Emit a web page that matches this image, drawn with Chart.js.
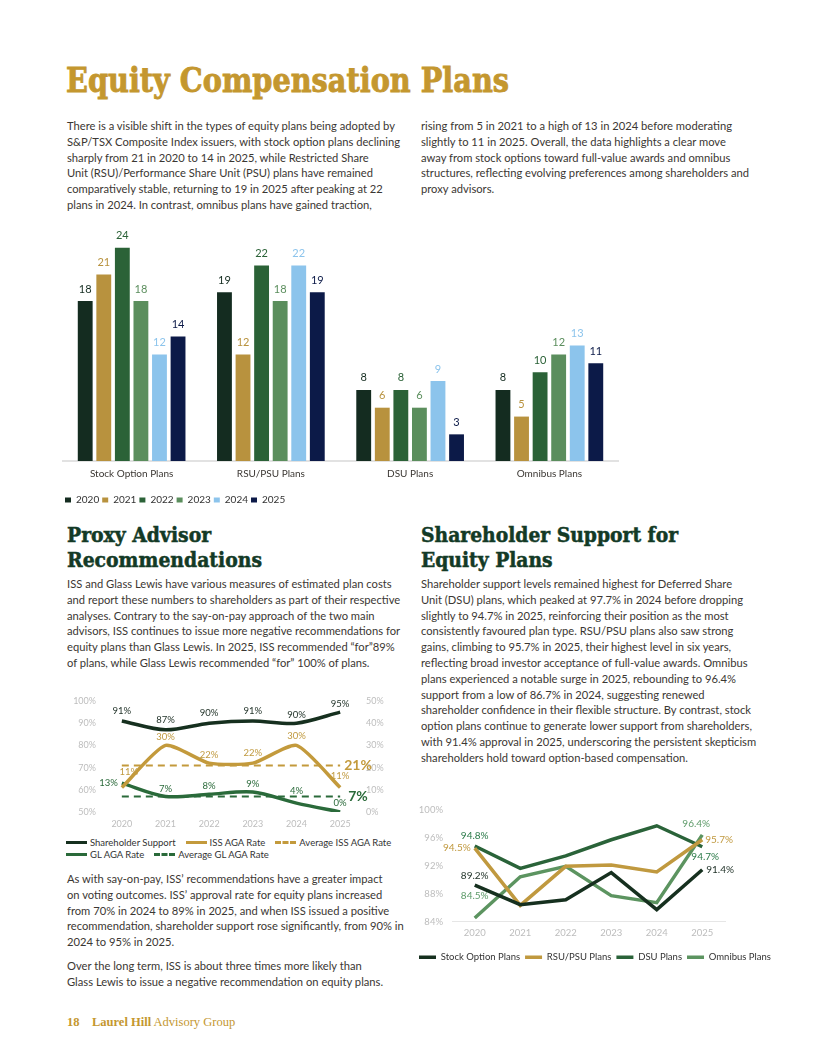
<!DOCTYPE html>
<html>
<head>
<meta charset="utf-8">
<script src="https://cdn.jsdelivr.net/npm/chart.js@4.4.1/dist/chart.umd.min.js"></script>
<style>
  body { margin:0; width:816px; height:1056px; position:relative; background:#fff; font-family:Lato, sans-serif; color:#3b3733; overflow:hidden; }
  .abs { position:absolute; }
  .txt { font-size:11.2px; line-height:15.8px; white-space:nowrap; }
  h1 { margin:0; display:inline-block; font-family:'DejaVu Serif'; font-weight:bold; font-size:34px; line-height:34px; color:#c4972f; -webkit-text-stroke:0.9px #c4972f; transform-origin:left top; white-space:nowrap; }
  h2 { margin:0; display:inline-block; font-family:'DejaVu Serif'; font-weight:bold; font-size:20px; line-height:24.5px; color:#133a26; -webkit-text-stroke:0.5px #133a26; transform-origin:left top; white-space:nowrap; }
  .legrow { height:11.5px; font-size:9.5px; line-height:11.5px; color:#333; white-space:nowrap; }
  .legitem { display:inline-block; margin-right:10px; }
  .sw { display:inline-block; width:21px; height:0; vertical-align:middle; margin-right:3px; position:relative; top:-1px; }
  .foot { font-family:'Liberation Serif'; font-size:12.5px; color:#c4972f; white-space:nowrap; }
</style>
</head>
<body>
<h1 class="abs" id="title" style="left:66px; top:63px;">Equity Compensation Plans</h1>

<div class="abs txt" style="left:67px; top:118px;">
There is a visible shift in the types of equity plans being adopted by<br>
S&amp;P/TSX Composite Index issuers, with stock option plans declining<br>
sharply from 21 in 2020 to 14 in 2025, while Restricted Share<br>
Unit (RSU)/Performance Share Unit (PSU) plans have remained<br>
comparatively stable, returning to 19 in 2025 after peaking at 22<br>
plans in 2024. In contrast, omnibus plans have gained traction,
</div>
<div class="abs txt" style="left:421px; top:118px;">
rising from 5 in 2021 to a high of 13 in 2024 before moderating<br>
slightly to 11 in 2025. Overall, the data highlights a clear move<br>
away from stock options toward full-value awards and omnibus<br>
structures, reflecting evolving preferences among shareholders and<br>
proxy advisors.
</div>

<canvas class="abs" id="barChart" width="557" height="289" style="left:62px; top:226px;"></canvas>

<div class="abs" style="left:67px; top:523px;"><h2 id="h2a">Proxy Advisor<br>Recommendations</h2></div>
<div class="abs" style="left:421px; top:523px;"><h2 id="h2b">Shareholder Support for<br>Equity Plans</h2></div>

<div class="abs txt" style="left:67px; top:576px;">
ISS and Glass Lewis have various measures of estimated plan costs<br>
and report these numbers to shareholders as part of their respective<br>
analyses. Contrary to the say-on-pay approach of the two main<br>
advisors, ISS continues to issue more negative recommendations for<br>
equity plans than Glass Lewis. In 2025, ISS recommended “for”89%<br>
of plans, while Glass Lewis recommended “for” 100% of plans.
</div>
<div class="abs txt" style="left:421px; top:576px;">
Shareholder support levels remained highest for Deferred Share<br>
Unit (DSU) plans, which peaked at 97.7% in 2024 before dropping<br>
slightly to 94.7% in 2025, reinforcing their position as the most<br>
consistently favoured plan type. RSU/PSU plans also saw strong<br>
gains, climbing to 95.7% in 2025, their highest level in six years,<br>
reflecting broad investor acceptance of full-value awards. Omnibus<br>
plans experienced a notable surge in 2025, rebounding to 96.4%<br>
support from a low of 86.7% in 2024, suggesting renewed<br>
shareholder confidence in their flexible structure. By contrast, stock<br>
option plans continue to generate lower support from shareholders,<br>
with 91.4% approval in 2025, underscoring the persistent skepticism<br>
shareholders hold toward option-based compensation.
</div>

<canvas class="abs" id="proxyChart" width="340" height="140" style="left:60px; top:690px;"></canvas>
<div class="abs" id="legend1" style="left:66px; top:837px;"></div>

<canvas class="abs" id="supportChart" width="400" height="177" style="left:414px; top:795px;"></canvas>

<div class="abs txt" style="left:67px; top:871px;">
As with say-on-pay, ISS’ recommendations have a greater impact<br>
on voting outcomes. ISS’ approval rate for equity plans increased<br>
from 70% in 2024 to 89% in 2025, and when ISS issued a positive<br>
recommendation, shareholder support rose significantly, from 90% in<br>
2024 to 95% in 2025.
</div>
<div class="abs txt" style="left:67px; top:958px;">
Over the long term, ISS is about three times more likely than<br>
Glass Lewis to issue a negative recommendation on equity plans.
</div>

<div class="abs foot" style="left:67px; top:1015px;"><b>18</b>&nbsp;&nbsp;&nbsp;&nbsp;<b>Laurel Hill</b> Advisory Group</div>

<script>
// ---- bar chart data: number of plans by type and year
const planTypes = ["Stock Option Plans", "RSU/PSU Plans", "DSU Plans", "Omnibus Plans"];
const barYears = ["2020", "2021", "2022", "2023", "2024", "2025"];
const plans2020 = [18, 19, 8, 8];
const plans2021 = [21, 12, 6, 5];
const plans2022 = [24, 22, 8, 10];
const plans2023 = [18, 18, 6, 12];
const plans2024 = [12, 22, 9, 13];
const plans2025 = [14, 19, 3, 11];

// ---- proxy advisor chart data (%)
const years = ["2020", "2021", "2022", "2023", "2024", "2025"];
const shareholderSupport = [91, 87, 90, 91, 90, 95];
const issAgaRate = [11, 30, 22, 22, 30, 11];
const glAgaRate = [13, 7, 8, 9, 4, 0];
const avgIssAgaRate = [21, 21, 21, 21, 21, 21];
const avgGlAgaRate = [7, 7, 7, 7, 7, 7];

// ---- shareholder support by plan type (%)
const stockOptionSupport = [89.2, 86.4, 87.1, 91.0, 85.7, 91.4];
const rsuPsuSupport = [94.5, 86.3, 91.9, 92.1, 91.1, 95.7];
const dsuSupport = [94.8, 91.6, 93.4, 95.7, 97.7, 94.7];
const omnibusSupport = [84.5, 90.4, 91.9, 87.7, 86.7, 96.4];

Chart.defaults.font.family = "Lato";
Chart.defaults.animation = false;

// draws value labels next to points / on top of bars
const valueLabels = {
  id: "valueLabels",
  afterDatasetsDraw(chart) {
    const ctx = chart.ctx;
    chart.data.datasets.forEach((ds, i) => {
      const vl = ds.valueLabels;
      if (!vl) return;
      chart.getDatasetMeta(i).data.forEach((el, j) => {
        const p = vl.pos[j];
        if (!p) return;
        const [side, d, dx = 0] = p;
        let x = el.x + dx, y = el.y;
        ctx.save();
        ctx.font = vl.font;
        ctx.fillStyle = vl.color;
        ctx.textBaseline = "middle";
        ctx.textAlign = "center";
        if (side === "t") y -= d;
        else if (side === "b") y += d;
        else if (side === "l") { ctx.textAlign = "right"; x -= d; }
        else if (side === "r") { ctx.textAlign = "left"; x += d; }
        ctx.fillText(vl.fmt(ds.data[j]), x, y);
        ctx.restore();
      });
    });
  }
};

const num = (v) => String(v);
const pct = (v) => v + "%";
const pct1 = (v) => v.toFixed(1) + "%";

// ---------- bar chart
const barColors = ["#142c20", "#b8923e", "#2b6237", "#5b8e5d", "#8cc4ec", "#0c1a48"];
const barSeries = [plans2020, plans2021, plans2022, plans2023, plans2024, plans2025];

new Chart(document.getElementById("barChart"), {
  type: "bar",
  data: {
    labels: planTypes,
    datasets: barSeries.map((d, k) => ({
      label: barYears[k],
      data: d,
      backgroundColor: barColors[k],
      categoryPercentage: 0.8,
      barPercentage: 0.8,
      valueLabels: { pos: [["t", 12], ["t", 12], ["t", 12], ["t", 12]], color: barColors[k], font: "11px Lato", fmt: num },
    })),
  },
  options: {
    responsive: false,
    layout: { padding: { top: 4 } },
    scales: {
      x: {
        grid: { display: false, drawTicks: false },
        border: { color: "#e2e2e2", width: 2 },
        ticks: { color: "#3b3733", font: { size: 10 }, padding: 7 },
        afterFit: (s) => { s.height = 31; },
      },
      y: { display: false, min: 0, max: 26 },
    },
    plugins: {
      legend: {
        position: "bottom",
        align: "start",
        labels: { boxWidth: 6, boxHeight: 5, padding: 3, color: "#333", font: { size: 10 } },
      },
      tooltip: { enabled: false },
    },
  },
  plugins: [valueLabels],
});

// ---------- proxy advisor chart
const cDark = "#16301f", cGold = "#c39a3c", cGreen = "#2a6a3a";
const tickStyle = { color: "#bdbdbd", font: { size: 9 } };

const proxyChart = new Chart(document.getElementById("proxyChart"), {
  type: "line",
  data: {
    labels: years,
    datasets: [
      {
        label: "Shareholder Support", data: shareholderSupport, yAxisID: "y",
        borderColor: cDark, borderWidth: 3.5, tension: 0.3,
        valueLabels: { pos: [["t", 10], ["t", 10], ["t", 10], ["t", 10], ["t", 8], ["t", 8]], color: "#1d2f25", font: "9.5px Lato", fmt: pct },
      },
      {
        label: "ISS AGA Rate", data: issAgaRate, yAxisID: "y1",
        borderColor: cGold, borderWidth: 3.5, tension: 0.2,
        valueLabels: { pos: [["t", 16, 7], ["t", 8], ["t", 8], ["t", 10], ["t", 9], ["t", 12]], color: "#c09a40", font: "9.5px Lato", fmt: pct },
      },
      {
        label: "Average ISS AGA Rate", data: avgIssAgaRate, yAxisID: "y1",
        borderColor: cGold, borderWidth: 2, borderDash: [7, 5],
        valueLabels: { pos: [null, null, null, null, null, ["r", 4]], color: cGold, font: "bold 14px Lato", fmt: pct },
      },
      {
        label: "GL AGA Rate", data: glAgaRate, yAxisID: "y1",
        borderColor: cGreen, borderWidth: 3.5, tension: 0.3,
        valueLabels: { pos: [["l", 4], ["t", 8], ["t", 8], ["t", 8], ["t", 12], ["t", 9]], color: cGreen, font: "9.5px Lato", fmt: pct },
      },
      {
        label: "Average GL AGA Rate", data: avgGlAgaRate, yAxisID: "y1",
        borderColor: cGreen, borderWidth: 2, borderDash: [7, 5],
        valueLabels: { pos: [null, null, null, null, null, ["r", 8]], color: cGreen, font: "bold 14px Lato", fmt: pct },
      },
    ],
  },
  options: {
    responsive: false,
    layout: { padding: { top: 11 } },
    elements: { point: { radius: 0 } },
    scales: {
      x: {
        offset: true,
        grid: { display: false, drawTicks: false },
        border: { display: false },
        ticks: { ...tickStyle, padding: 7 },
        afterFit: (s) => { s.height = 18; },
      },
      y: {
        position: "left", min: 50, max: 100,
        grid: { display: false, drawTicks: false }, border: { display: false },
        ticks: { ...tickStyle, stepSize: 10, padding: 4, callback: (v) => v + "%" },
        afterFit: (s) => { s.width = 40; },
      },
      y1: {
        position: "right", min: 0, max: 50,
        grid: { display: false, drawTicks: false }, border: { display: false },
        ticks: { ...tickStyle, stepSize: 10, padding: 4, callback: (v) => v + "%" },
        afterFit: (s) => { s.width = 38; },
      },
    },
    plugins: { legend: { display: false }, tooltip: { enabled: false } },
  },
  plugins: [valueLabels],
});

// html legend for the proxy chart (two rows like the original)
const legendRows = [[0, 1, 2], [3, 4]];
const leg = document.getElementById("legend1");
legendRows.forEach((row) => {
  const r = document.createElement("div");
  r.className = "legrow";
  row.forEach((k) => {
    const ds = proxyChart.data.datasets[k];
    const dashed = ds.borderDash && ds.borderDash.length;
    r.innerHTML += `<span class="legitem"><span class="sw" style="border-top:3px ${dashed ? "dashed" : "solid"} ${ds.borderColor}"></span>${ds.label}</span>`;
  });
  leg.appendChild(r);
});

// ---------- shareholder support chart
const cStock = "#16301f", cRsu = "#c0993f", cDsu = "#2a6339", cOmni = "#5c9460";
const ends = (a, b) => [a, null, null, null, null, b];

new Chart(document.getElementById("supportChart"), {
  type: "line",
  data: {
    labels: years,
    datasets: [
      {
        label: "Stock Option Plans", data: stockOptionSupport, borderColor: cStock, backgroundColor: cStock, borderWidth: 3.5,
        valueLabels: { pos: ends(["t", 9], ["r", 4]), color: "#1d2f25", font: "10px Lato", fmt: pct1 },
      },
      {
        label: "RSU/PSU Plans", data: rsuPsuSupport, borderColor: cRsu, backgroundColor: cRsu, borderWidth: 3.5,
        valueLabels: { pos: ends(["l", 4], ["r", 3]), color: "#c0993f", font: "10px Lato", fmt: pct1 },
      },
      {
        label: "DSU Plans", data: dsuSupport, borderColor: cDsu, backgroundColor: cDsu, borderWidth: 3.5,
        valueLabels: { pos: ends(["t", 10], ["b", 10, 3]), color: "#2a7a48", font: "10px Lato", fmt: pct1 },
      },
      {
        label: "Omnibus Plans", data: omnibusSupport, borderColor: cOmni, backgroundColor: cOmni, borderWidth: 3.5,
        valueLabels: { pos: ends(["t", 22], ["t", 11, -6]), color: "#5c9a68", font: "10px Lato", fmt: pct1 },
      },
    ],
  },
  options: {
    responsive: false,
    layout: { padding: { top: 13 } },
    elements: { point: { radius: 0 } },
    scales: {
      x: {
        offset: true,
        grid: { display: false, drawTicks: false },
        border: { color: "#e6e6e6", width: 1 },
        ticks: { color: "#bdbdbd", font: { size: 9.5 }, padding: 6 },
        afterFit: (s) => { s.height = 26; },
      },
      y: {
        min: 84, max: 100,
        grid: { display: false, drawTicks: false }, border: { display: false },
        ticks: { color: "#bdbdbd", font: { size: 9.5 }, stepSize: 4, padding: 9, callback: (v) => v + "%" },
        afterFit: (s) => { s.width = 38; },
      },
      // empty right axis: keeps the plot narrow while the legend uses the full width
      yPad: {
        position: "right",
        grid: { display: false, drawTicks: false }, border: { display: false },
        ticks: { display: false },
        afterFit: (s) => { s.width = 89; },
      },
    },
    plugins: {
      legend: {
        position: "bottom",
        align: "start",
        labels: { usePointStyle: true, pointStyle: "line", pointStyleWidth: 17, boxHeight: 4, padding: 5, color: "#333", font: { size: 9.5 } },
      },
      tooltip: { enabled: false },
    },
  },
  plugins: [valueLabels],
});

// squeeze the serif headings to the original widths
function fitWidth(el, target) {
  const w = el.getBoundingClientRect().width;
  el.style.transform = `scaleX(${target / w})`;
}
fitWidth(document.getElementById("title"), 443);
fitWidth(document.getElementById("h2a"), 195);
fitWidth(document.getElementById("h2b"), 257);
</script>
</body>
</html>
